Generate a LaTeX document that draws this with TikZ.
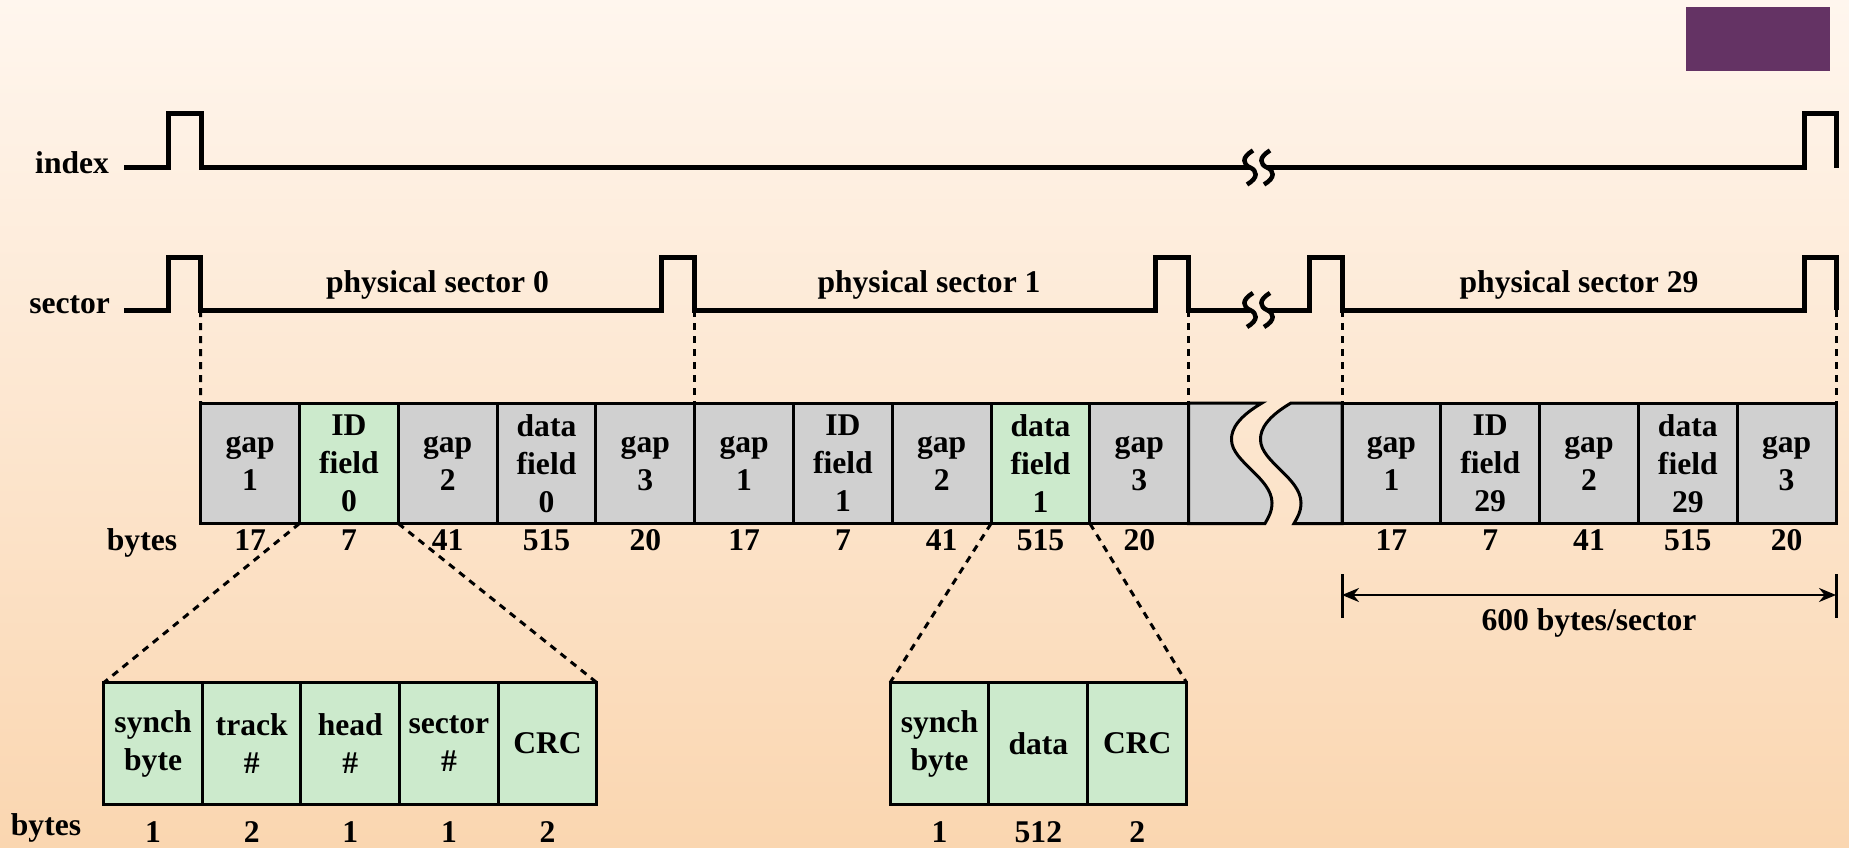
\documentclass[tikz,border=0pt]{standalone}
\usepackage{fontspec}
\setmainfont{Liberation Serif}
\usetikzlibrary{arrows.meta}
\definecolor{bgtop}{RGB}{255,246,238}
\definecolor{bgmid}{RGB}{253,231,207}
\definecolor{bgbot}{RGB}{250,214,176}
\definecolor{cellgray}{RGB}{208,208,208}
\definecolor{cellgreen}{RGB}{204,234,204}
\definecolor{purp}{RGB}{100,51,100}
\begin{document}
\begin{tikzpicture}[x=1pt,y=-1pt,
  every node/.style={font=\fontsize{31.6}{38}\selectfont\bfseries, inner sep=0pt, outer sep=0pt},
  signal/.style={line width=5pt},
  squig/.style={line width=4.5pt},
  cellbox/.style={draw, line width=3pt, minimum width=98.8pt, minimum height=120.5pt, align=center},
  graycell/.style={cellbox, fill=cellgray},
  greencell/.style={cellbox, fill=cellgreen},
  subcell/.style={cellbox, fill=cellgreen, minimum height=121.5pt},
  dots/.style={line width=3pt, dash pattern=on 7pt off 6pt},
  num/.style={anchor=base},
  lbl/.style={anchor=base east},
  wavy/.style={draw, line width=3pt, fill=cellgray},
  dim/.style={line width=2.5pt, {Stealth[length=17pt,width=14pt]}-{Stealth[length=17pt,width=14pt]}},
  bar/.style={line width=3pt}
]
\useasboundingbox (0,0) rectangle (1849,848);
\shade[top color=bgtop, middle color=bgmid, bottom color=bgbot] (0,0) rectangle (1849,848);
\fill[purp] (1686,7) rectangle (1830,71);

% signal labels
\node[lbl] (lidx) at (109,173) {index};
\node[lbl] (lsec) at (110,313) {sector};

% index signal
\draw[signal] (124,167.5) -- (168,167.5) -- (168,114) -- (201,114) -- (201,167.5) -- (1250,167.5);
\draw[signal] (1267,167.5) -- (1804,167.5) -- (1804,114) -- (1836,114) -- (1836,167.5);
% sector signal
\draw[signal] (124,310) -- (168,310) -- (168,257) -- (200.7,257) -- (200.7,310) -- (661.5,310) -- (661.5,257) -- (694.7,257) -- (694.7,310) -- (1155.6,310) -- (1155.6,257) -- (1188.7,257) -- (1188.7,310) -- (1250,310);
\draw[signal] (1267,310) -- (1309,310) -- (1309,257) -- (1342,257) -- (1342,310) -- (1804,310) -- (1804,257) -- (1836,257) -- (1836,310);
% break marks
\foreach \cx in {1250,1267}{
  \foreach \cy in {167.5,310}{
    \draw[squig] (\cx+3,\cy-17) .. controls (\cx-9,\cy-10) and (\cx-7,\cy-3) .. (\cx,\cy) .. controls (\cx+7,\cy+3) and (\cx+9,\cy+10) .. (\cx-3,\cy+17);
  }
}

\node[num] (ps0) at (437.5,292.7) {physical sector 0};
\node[num] (ps1) at (929,292.7) {physical sector 1};
\node[num] (ps29) at (1579,292.7) {physical sector 29};

% wave pieces
\draw[wavy] (1188.7,403) -- (1262,403) .. controls (1240,416) and (1231,428) .. (1231.5,440) .. controls (1232,462) and (1272,478) .. (1272,503) .. controls (1272,512) and (1268,518) .. (1265,523.5) -- (1188.7,523.5) -- cycle;
\draw[wavy] (1342,523.5) -- (1294,523.5) .. controls (1297,518) and (1301,512) .. (1301,503) .. controls (1301,478) and (1261,462) .. (1260.5,440) .. controls (1260,428) and (1269,416) .. (1291,403) -- (1342,403) -- cycle;

% track cells
\node[graycell]  (c1)  at (250.1,463.25) {gap\\1};
\node[greencell] (c2)  at (348.9,463.25) {ID\\field\\0};
\node[graycell]  (c3)  at (447.7,463.25) {gap\\2};
\node[graycell]  (c4)  at (546.5,463.25) {data\\field\\0};
\node[graycell]  (c5)  at (645.3,463.25) {gap\\3};
\node[graycell]  (c6)  at (744.1,463.25) {gap\\1};
\node[graycell]  (c7)  at (842.9,463.25) {ID\\field\\1};
\node[graycell]  (c8)  at (941.7,463.25) {gap\\2};
\node[greencell] (c9)  at (1040.5,463.25) {data\\field\\1};
\node[graycell]  (c10) at (1139.3,463.25) {gap\\3};
\node[graycell]  (r1)  at (1391.4,463.25) {gap\\1};
\node[graycell]  (r2)  at (1490.2,463.25) {ID\\field\\29};
\node[graycell]  (r3)  at (1589,463.25) {gap\\2};
\node[graycell]  (r4)  at (1687.8,463.25) {data\\field\\29};
\node[graycell]  (r5)  at (1786.6,463.25) {gap\\3};

% dotted sector boundaries
\coordinate (f0) at (200.7,310);
\coordinate (f1) at (694.7,310);
\coordinate (f2) at (1188.7,310);
\coordinate (f3) at (1342,310);
\coordinate (f4) at (1836,310);
\draw[dots] (f0) -- (c1.north west);
\draw[dots] (f1) -- (c5.north east);
\draw[dots] (f2) -- (c10.north east);
\draw[dots] (f3) -- (r1.north west);
\draw[dots] (f4) -- (r5.north east);

% byte counts
\node[num] (by1) at (142,550) {bytes};
\node[num] (n1)  at (250.1,550) {17};
\node[num] (n2)  at (348.9,550) {7};
\node[num] (n3)  at (447.7,550) {41};
\node[num] (n4)  at (546.5,550) {515};
\node[num] (n5)  at (645.3,550) {20};
\node[num] (n6)  at (744.1,550) {17};
\node[num] (n7)  at (842.9,550) {7};
\node[num] (n8)  at (941.7,550) {41};
\node[num] (n9)  at (1040.5,550) {515};
\node[num] (n10) at (1139.3,550) {20};
\node[num] (n11) at (1391.4,550) {17};
\node[num] (n12) at (1490.2,550) {7};
\node[num] (n13) at (1589,550) {41};
\node[num] (n14) at (1687.8,550) {515};
\node[num] (n15) at (1786.6,550) {20};

% 600 bytes/sector
\coordinate (a1) at (1342,595);
\coordinate (a2) at (1836,595);
\coordinate (a1t) at (1342,574);
\coordinate (a1b) at (1342,618);
\coordinate (a2t) at (1836,574);
\coordinate (a2b) at (1836,618);
\draw[bar] (a1t) -- (a1b);
\draw[bar] (a2t) -- (a2b);
\draw[dim] (a1) -- (a2);
\node[num] (spb) at (1589,630) {600 bytes/sector};

% ID field detail
\node[subcell] (i1) at (153.1,743.45) {synch\\byte};
\node[subcell] (i2) at (251.7,743.45) {track\\\#};
\node[subcell] (i3) at (350.3,743.45) {head\\\#};
\node[subcell] (i4) at (448.9,743.45) {sector\\\#};
\node[subcell] (i5) at (547.5,743.45) {CRC};
% data field detail
\node[subcell] (d1) at (939.45,743.45) {synch\\byte};
\node[subcell] (d2) at (1038.35,743.45) {data};
\node[subcell] (d3) at (1137.25,743.45) {CRC};

\draw[dots] (c2.south west) -- (i1.north west);
\draw[dots] (c2.south east) -- (i5.north east);
\draw[dots] (c9.south west) -- (d1.north west);
\draw[dots] (c9.south east) -- (d3.north east);

\node[num] (by2) at (46,835) {bytes};
\node[num] (m1) at (153.1,842) {1};
\node[num] (m2) at (251.7,842) {2};
\node[num] (m3) at (350.3,842) {1};
\node[num] (m4) at (448.9,842) {1};
\node[num] (m5) at (547.5,842) {2};
\node[num] (m6) at (939.45,842) {1};
\node[num] (m7) at (1038.35,842) {512};
\node[num] (m8) at (1137.25,842) {2};
\end{tikzpicture}
\end{document}
